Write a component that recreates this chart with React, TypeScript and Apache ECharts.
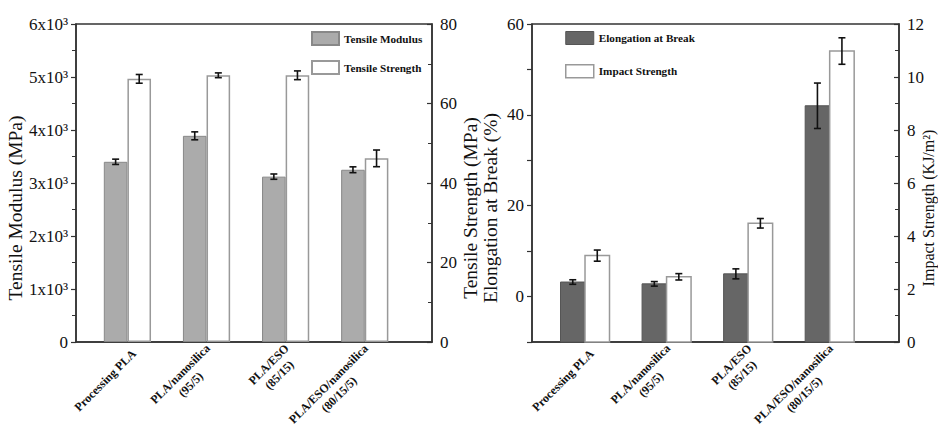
import React, { useEffect, useRef } from "react";
import * as echarts from "echarts";

const categories = [
  "Processing PLA",
  "PLA/nanosilica\n(95/5)",
  "PLA/ESO\n(85/15)",
  "PLA/ESO/nanosilica\n(80/15/5)",
];
const tensileModulus = [3400, 3890, 3120, 3250];
const tensileModulusErr = [50, 75, 50, 55];
const tensileStrength = [66.2, 67.1, 67.1, 46.2];
const tensileStrengthErr = [1.1, 0.6, 1.1, 2.1];
const elongation = [3.2, 2.8, 5.0, 42.0];
const elongationErr = [0.5, 0.5, 1.1, 5.0];
const impactStrength = [3.26, 2.46, 4.48, 10.98];
const impactStrengthErr = [0.21, 0.12, 0.18, 0.5];

const FONT = "Liberation Serif";
const ELONG_MIN = -10;
const LABEL_FONT_SIZE = 12;
const LABEL_SHIFT = 0.09;

export default function App() {
  const ref = useRef<HTMLDivElement>(null);
  useEffect(() => {
    if (!ref.current) return;
    const chart = echarts.init(ref.current, null, { renderer: "svg" });
    const pos = categories.map((_, i) => i + 1);
    const pairs = (vals: number[]) => vals.map((v, i) => [pos[i], v]);
    const triples = (vals: number[], errs: number[]) =>
      vals.map((v, i) => [pos[i], v, errs[i]]);

    // measure label lines so multi-line labels can be centred line by line
    const ctx = document.createElement("canvas").getContext("2d");
    const rich: Record<string, any> = {};
    const labelText: string[] = categories.map((c, i) => {
      const lines = c.split("\n");
      let w = 0;
      if (ctx) {
        ctx.font = `bold ${LABEL_FONT_SIZE}px "${FONT}"`;
        lines.forEach((l) => (w = Math.max(w, ctx.measureText(l).width)));
      } else {
        w = Math.max(...lines.map((l) => l.length * 6.5));
      }
      rich["l" + i] = {
        width: Math.ceil(w) + 1,
        align: "center",
        fontFamily: FONT,
        fontWeight: "bold",
        fontSize: LABEL_FONT_SIZE,
        color: "#111",
        lineHeight: 15,
      };
      return lines.map((l) => `{l${i}|${l}}`).join("\n");
    });

    const errSeries = (
      name: string,
      data: number[][],
      xi: number,
      yi: number,
      offset: number
    ) => ({
      type: "custom",
      name,
      xAxisIndex: xi,
      yAxisIndex: yi,
      z: 10,
      silent: true,
      data,
      renderItem: (params: any, api: any) => {
        const x = api.value(0);
        const v = api.value(1);
        const e = api.value(2);
        const t = api.coord([x, v + e]);
        const b = api.coord([x, v - e]);
        const cx = t[0] + offset;
        const cap = 3.5;
        const st = { stroke: "#111", lineWidth: 1.6 };
        return {
          type: "group",
          children: [
            { type: "line", shape: { x1: cx, y1: t[1], x2: cx, y2: b[1] }, style: st },
            { type: "line", shape: { x1: cx - cap, y1: t[1], x2: cx + cap, y2: t[1] }, style: st },
            { type: "line", shape: { x1: cx - cap, y1: b[1], x2: cx + cap, y2: b[1] }, style: st },
          ],
        };
      },
    });

    const rectSeries = (
      name: string,
      data: number[][],
      yi: number,
      base: number,
      w: number,
      side: number,
      style: any
    ) => ({
      type: "custom",
      name,
      xAxisIndex: 1,
      yAxisIndex: yi,
      z: 3,
      itemStyle: { color: style.fill, borderColor: style.stroke, borderWidth: style.lineWidth },
      data,
      renderItem: (params: any, api: any) => {
        const x = api.value(0);
        const v = api.value(1);
        const t = api.coord([x, v]);
        const b = api.coord([x, base]);
        return {
          type: "rect",
          shape: { x: side < 0 ? t[0] - w : t[0], y: t[1], width: w, height: b[1] - t[1] },
          style,
        };
      },
    });

    const xAxisCommon = {
      type: "value",
      min: 0.35,
      max: 4.85,
      splitLine: { show: false },
      axisTick: { show: false },
      axisLine: { show: true, onZero: false, lineStyle: { color: "#333", width: 1.5 } },
      axisLabel: {
        customValues: pos.map((p) => p + LABEL_SHIFT),
        formatter: (v: number) => labelText[Math.round(v) - 1] ?? "",
        rotate: 45,
        margin: 9,
        fontFamily: FONT,
        fontWeight: "bold",
        fontSize: LABEL_FONT_SIZE,
        color: "#111",
        lineHeight: 15,
        rich,
      },
    };

    const TITLE_PAD = [0, 50, 0, 0];
    const yCommon = (inside: boolean) => ({
      type: "value",
      splitLine: { show: false },
      axisLine: { show: true, lineStyle: { color: "#333", width: 1.5 } },
      axisTick: { show: true, inside, length: 5, lineStyle: { color: "#333", width: 1.2 } },
      minorTick: { show: true, splitNumber: 2, length: 4, lineStyle: { color: "#333", width: 1 } },
      axisLabel: { fontFamily: FONT, fontSize: 17, color: "#111" },
      nameLocation: "middle",
      nameTextStyle: { fontFamily: FONT, fontSize: 19.5, color: "#111", padding: TITLE_PAD },
    });

    const legendText = { fontFamily: FONT, fontWeight: "bold", fontSize: 11.2, color: "#111" };

    chart.setOption({
      animation: false,
      backgroundColor: "#fff",
      grid: [
        {
          left: 76,
          top: 24,
          width: 356,
          height: 318,
          show: true,
          borderColor: "#333",
          borderWidth: 1.5,
          outerBoundsMode: "none",
          containLabel: false,
        },
        {
          left: 532,
          top: 24,
          width: 367,
          height: 318,
          show: true,
          borderColor: "#333",
          borderWidth: 1.5,
          outerBoundsMode: "none",
          containLabel: false,
        },
      ],
      legend: [
        {
          orient: "vertical",
          left: 306,
          top: 26,
          itemWidth: 27,
          itemHeight: 13,
          itemGap: 14,
          textStyle: legendText,
          data: [
            { name: "Tensile Modulus", icon: "rect" },
            { name: "Tensile Strength", icon: "rect" },
          ],
        },
        {
          orient: "vertical",
          left: 560,
          top: 26,
          itemWidth: 28,
          itemHeight: 13,
          itemGap: 19,
          textStyle: legendText,
          data: [
            {
              name: "Elongation at Break",
              icon: "rect",
              itemStyle: { color: "#666", borderColor: "#555", borderWidth: 1 },
            },
            {
              name: "Impact Strength",
              icon: "rect",
              itemStyle: { color: "#fff", borderColor: "#999", borderWidth: 1.5 },
            },
          ],
        },
      ],
      xAxis: [
        { ...xAxisCommon, gridIndex: 0 },
        { ...xAxisCommon, gridIndex: 1 },
      ],
      yAxis: [
        {
          ...yCommon(false),
          gridIndex: 0,
          position: "left",
          min: 0,
          max: 6000,
          interval: 1000,
          name: "Tensile Modulus (MPa)",
          nameGap: 47,
          axisLabel: {
            fontFamily: FONT,
            fontSize: 17,
            color: "#111",
            formatter: (v: number) => (v === 0 ? "0" : `${v / 1000}x10³`),
          },
        },
        {
          ...yCommon(true),
          gridIndex: 0,
          position: "right",
          min: 0,
          max: 80,
          interval: 20,
          name: "Tensile Strength (MPa)",
          nameGap: 22,
        },
        {
          ...yCommon(false),
          gridIndex: 1,
          position: "left",
          min: ELONG_MIN,
          max: 60,
          interval: 10,
          minorTick: { show: false },
          name: "Elongation at Break (%)",
          nameGap: 32,
          axisLabel: {
            fontFamily: FONT,
            fontSize: 17,
            color: "#111",
            formatter: (v: number) => (v >= 0 && v % 20 === 0 ? String(v) : ""),
          },
        },
        {
          ...yCommon(true),
          gridIndex: 1,
          position: "right",
          min: 0,
          max: 12,
          interval: 2,
          name: "Impact Strength (KJ/m²)",
          nameGap: 21,
          nameMoveOverlap: false,
          nameTextStyle: { fontFamily: FONT, fontSize: 16, color: "#111", padding: TITLE_PAD },
        },
      ],
      series: [
        {
          type: "bar",
          name: "Tensile Modulus",
          xAxisIndex: 0,
          yAxisIndex: 0,
          barWidth: 23.6,
          barGap: "0%",
          itemStyle: { color: "#ababab", borderColor: "#888", borderWidth: 1 },
          data: pairs(tensileModulus),
        },
        {
          type: "bar",
          name: "Tensile Strength",
          xAxisIndex: 0,
          yAxisIndex: 1,
          barWidth: 23.6,
          barGap: "0%",
          itemStyle: { color: "#fff", borderColor: "#999", borderWidth: 1.5 },
          data: pairs(tensileStrength),
        },
        rectSeries("Elongation at Break", pairs(elongation), 2, ELONG_MIN, 24.5, -1, {
          fill: "#666",
          stroke: "#555",
          lineWidth: 1,
        }),
        rectSeries("Impact Strength", pairs(impactStrength), 3, 0, 24.5, 1, {
          fill: "#fff",
          stroke: "#999",
          lineWidth: 1.5,
        }),
        errSeries("mod-err", triples(tensileModulus, tensileModulusErr), 0, 0, -11.8),
        errSeries("str-err", triples(tensileStrength, tensileStrengthErr), 0, 1, 11.8),
        errSeries("elo-err", triples(elongation, elongationErr), 1, 2, -12.25),
        errSeries("imp-err", triples(impactStrength, impactStrengthErr), 1, 3, 12.25),
      ],
    });
    return () => chart.dispose();
  }, []);
  return (
    <div
      ref={ref}
      style={{
        position: "fixed",
        left: 0,
        top: 0,
        width: 938,
        height: 438,
        overflow: "hidden",
        background: "#fff",
      }}
    />
  );
}
